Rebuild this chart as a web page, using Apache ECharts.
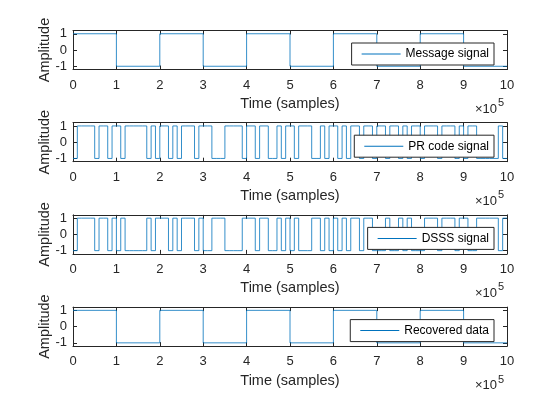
<!DOCTYPE html>
<html>
<head>
<meta charset="utf-8">
<script src="https://cdn.jsdelivr.net/npm/echarts@6/dist/echarts.min.js"></script>
<style>
html, body { margin: 0; padding: 0; background: #fff; }
#main { width: 560px; height: 420px; }
</style>
</head>
<body>
<div id="main"></div>
<script>
// 每个码片 / 每个比特的采样数
var chipLen = 1e4;
var bitLen = 1e5;

// 消息信号 (10 bits)
var messageBits = [1, -1, 1, -1, 1, -1, 1, -1, 1, -1];

// 伪随机码 (100 chips)
var prChips = [
    -1, 1, 1, 1, 1, -1, 1, 1, -1, 1,
    1, -1, 1, 1, 1, 1, 1, -1, 1, -1,
    1, 1, -1, 1, -1, 1, 1, 1, -1, 1,
    1, 1, -1, -1, -1, 1, 1, 1, 1, -1,
    1, 1, -1, 1, 1, -1, -1, 1, -1, 1,
    1, -1, 1, 1, 1, -1, -1, 1, -1, 1,
    1, -1, 1, -1, 1, 1, -1, 1, 1, -1,
    1, 1, -1, 1, 1, -1, 1, -1, 1, 1,
    -1, 1, 1, 1, -1, 1, 1, 1, -1, 1,
    -1, 1, 1, -1, -1, -1, -1, -1, 1, -1
];

// 扩频后信号 (100 chips)
var dsssChips = [
    -1, 1, 1, 1, 1, -1, 1, 1, -1, 1,
    -1, 1, -1, -1, -1, -1, -1, 1, -1, 1,
    1, 1, -1, 1, -1, 1, 1, 1, -1, 1,
    -1, -1, 1, 1, 1, -1, -1, -1, -1, 1,
    1, 1, -1, 1, 1, -1, -1, 1, -1, 1,
    -1, 1, -1, -1, -1, 1, 1, -1, 1, -1,
    1, -1, 1, -1, 1, 1, -1, 1, 1, -1,
    -1, -1, 1, -1, -1, 1, -1, 1, -1, -1,
    -1, 1, 1, 1, -1, 1, 1, 1, -1, 1,
    1, -1, -1, 1, 1, 1, 1, 1, -1, 1
];

// 解扩后恢复数据 (10 bits)
var recoveredBits = [1, -1, 1, -1, 1, -1, 1, -1, 1, -1];

// 刻度
var xTickLabels = ['0', '1', '2', '3', '4', '5', '6', '7', '8', '9', '10'];
var yTickValues = [-1, 0, 1];
var legendNames = ['Message signal', 'PR code signal', 'DSSS signal', 'Recovered data'];

var FONT = '"Liberation Sans", Arial, Helvetica, sans-serif';
var AX = '#262626';
var LINE = '#0072BD';

// 把每段电平转成阶梯点
function toSteps(values, len) {
    var pts = [];
    for (var i = 0; i < values.length; i++) {
        pts.push([i * len, values[i]]);
    }
    pts.push([values.length * len, values[values.length - 1]]);
    return pts;
}

var seriesSrc = [
    toSteps(messageBits, bitLen),
    toSteps(prChips, chipLen),
    toSteps(dsssChips, chipLen),
    toSteps(recoveredBits, bitLen)
];

var grids = [], xAxes = [], yAxes = [], series = [], legends = [], graphics = [];
for (var i = 0; i < 4; i++) {
    var gridTop = 30.5 + i * 92.2;  // 注意不能用 top 做变量名(window.top)
    var h = 39;
    grids.push({ left: 73, width: 434, top: gridTop, height: h, containLabel: false });

    // 下方x轴
    xAxes.push({
        type: 'value', gridIndex: i, position: 'bottom',
        min: 0, max: 1e6, interval: 1e5,
        axisLine: { onZero: false, lineStyle: { color: AX, width: 1 } },
        axisTick: { inside: true, length: 4, lineStyle: { color: AX } },
        axisLabel: {
            color: AX, fontSize: 13, margin: 9, fontFamily: FONT,
            showMinLabel: true, showMaxLabel: true,
            formatter: function (v) { return xTickLabels[Math.round(v / 1e5)]; }
        },
        splitLine: { show: false },
        name: 'Time (samples)', nameLocation: 'middle', nameGap: 27, nameMoveOverlap: false,
        nameTextStyle: { color: AX, fontSize: 14.5, fontFamily: FONT }
    });
    // 上方x轴，只画刻度
    xAxes.push({
        type: 'value', gridIndex: i, position: 'top',
        min: 0, max: 1e6, interval: 1e5,
        axisLine: { onZero: false, lineStyle: { color: AX, width: 1 } },
        axisTick: { inside: true, length: 4, lineStyle: { color: AX } },
        axisLabel: { show: false },
        splitLine: { show: false }
    });
    // 左侧y轴
    yAxes.push({
        type: 'value', gridIndex: i, position: 'left',
        min: -1.2, max: 1.2,
        axisLine: { show: true, onZero: false, lineStyle: { color: AX, width: 1 } },
        axisTick: { show: true, inside: true, length: 4, customValues: yTickValues, lineStyle: { color: AX } },
        axisLabel: { color: AX, fontSize: 13, margin: 6, fontFamily: FONT, customValues: yTickValues },
        splitLine: { show: false },
        name: 'Amplitude', nameLocation: 'middle', nameGap: 21, nameMoveOverlap: false,
        nameTextStyle: { color: AX, fontSize: 14.5, fontFamily: FONT }
    });
    // 右侧y轴，只画刻度
    yAxes.push({
        type: 'value', gridIndex: i, position: 'right',
        min: -1.2, max: 1.2,
        axisLine: { show: true, onZero: false, lineStyle: { color: AX, width: 1 } },
        axisTick: { show: true, inside: true, length: 4, customValues: yTickValues, lineStyle: { color: AX } },
        axisLabel: { show: false },
        splitLine: { show: false }
    });

    series.push({
        name: legendNames[i], type: 'line', step: 'end',
        xAxisIndex: i * 2, yAxisIndex: i * 2,
        data: seriesSrc[i], symbol: 'none',
        lineStyle: { color: LINE, width: 0.8 }, itemStyle: { color: LINE }
    });

    legends.push({
        data: [legendNames[i]], right: 66, top: gridTop + 12.5,
        orient: 'horizontal', selectedMode: false,
        icon: 'rect', itemWidth: 39, itemHeight: 1, itemGap: 0,
        backgroundColor: '#fff', borderColor: AX, borderWidth: 1, borderRadius: 0,
        padding: [5, 5, 5, 10],
        textStyle: { fontSize: 12, color: '#000', fontFamily: FONT }
    });

    // x10^5 指数标记
    graphics.push({
        type: 'text', left: 475, top: gridTop + h + 33,
        style: { text: '\u00d710', font: '13px ' + FONT, fill: AX }
    });
    graphics.push({
        type: 'text', left: 498, top: gridTop + h + 28,
        style: { text: '5', font: '11px ' + FONT, fill: AX }
    });
}

var myChart = echarts.init(document.getElementById('main'));
myChart.setOption({
    animation: false,
    backgroundColor: '#fff',
    textStyle: { fontFamily: FONT },
    grid: grids,
    xAxis: xAxes,
    yAxis: yAxes,
    legend: legends,
    series: series,
    graphic: graphics
});
</script>
</body>
</html>
